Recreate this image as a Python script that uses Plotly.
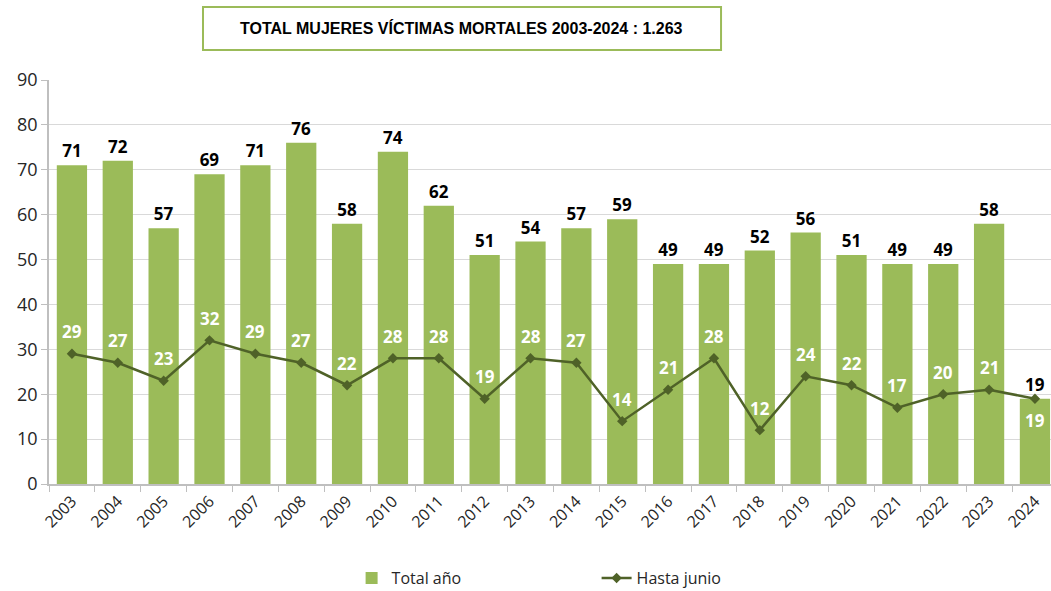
import plotly.graph_objects as go

years = [str(y) for y in range(2003, 2025)]
total_anio = [71, 72, 57, 69, 71, 76, 58, 74, 62, 51, 54, 57, 59, 49, 49, 52, 56, 51, 49, 49, 58, 19]
hasta_junio = [29, 27, 23, 32, 29, 27, 22, 28, 28, 19, 28, 27, 14, 21, 28, 12, 24, 22, 17, 20, 21, 19]
title_text = "TOTAL MUJERES VÍCTIMAS MORTALES 2003-2024 : 1.263"

BAR = "#9BBB59"
LINE = "#4F6228"
FONT = "Open Sans"

fig = go.Figure()
fig.add_trace(go.Bar(
    x=years, y=total_anio, name="Total año",
    marker=dict(color=BAR, line=dict(width=0)),
    text=[str(v) for v in total_anio], textposition="outside",
    textfont=dict(family=FONT, size=17, color="#000000", weight="bold"),
    cliponaxis=False,
))
fig.add_trace(go.Scatter(
    x=years, y=hasta_junio, name="Hasta junio", mode="lines+markers",
    line=dict(color=LINE, width=2.5),
    marker=dict(symbol="diamond", size=8, color=LINE),
    cliponaxis=False,
))
for i, v in enumerate(hasta_junio):
    shift = 22 if i < len(hasta_junio) - 1 else -22
    fig.add_annotation(x=i, y=v, xref="x", yref="y", text="<b>%d</b>" % v,
                       showarrow=False, yshift=shift,
                       font=dict(family=FONT, size=17, color="#FFFFFF"))

fig.update_layout(
    width=1051, height=591,
    margin=dict(l=49, r=0, t=80, b=107, autoexpand=False),
    paper_bgcolor="white", plot_bgcolor="white",
    bargap=0.34,
    font=dict(family=FONT, size=16, color="#262626"),
    showlegend=True,
    legend=dict(orientation="h", x=0.302, xanchor="left", y=-0.233, yanchor="middle",
                font=dict(family=FONT, size=16, color="#262626"),
                entrywidth=200, entrywidthmode="pixels", traceorder="normal"),
    xaxis=dict(type="category", range=[-0.5, 21.35], tickangle=-45, automargin=False,
               showline=True, linecolor="#BFBFBF", linewidth=1.5,
               ticks="outside", tickson="boundaries", ticklen=6, tickcolor="#BFBFBF",
               tickfont=dict(family=FONT, size=16, color="#262626"), showgrid=False),
    yaxis=dict(range=[0, 90], dtick=10, showline=True, linecolor="#BFBFBF", linewidth=1.5,
               ticks="outside", ticklen=6, tickcolor="#BFBFBF", automargin=False,
               gridcolor="#D9D9D9", gridwidth=1, zeroline=False,
               tickfont=dict(family=FONT, size=18, color="#262626")),
)

fig.add_shape(type="rect", xref="paper", yref="paper",
              x0=0.1537, x1=0.6707, y0=1.0743, y1=1.1807,
              line=dict(color=BAR, width=2), fillcolor="white")
fig.add_annotation(xref="paper", yref="paper", x=0.412, y=1.1287, yanchor="middle",
                   text="<b>" + title_text + "</b>", showarrow=False,
                   font=dict(family="Liberation Sans", size=16, color="#000000"))

fig.write_html("out.html", config={"displayModeBar": False},
               post_script="document.body.style.margin='0';document.body.style.overflow='hidden';")
